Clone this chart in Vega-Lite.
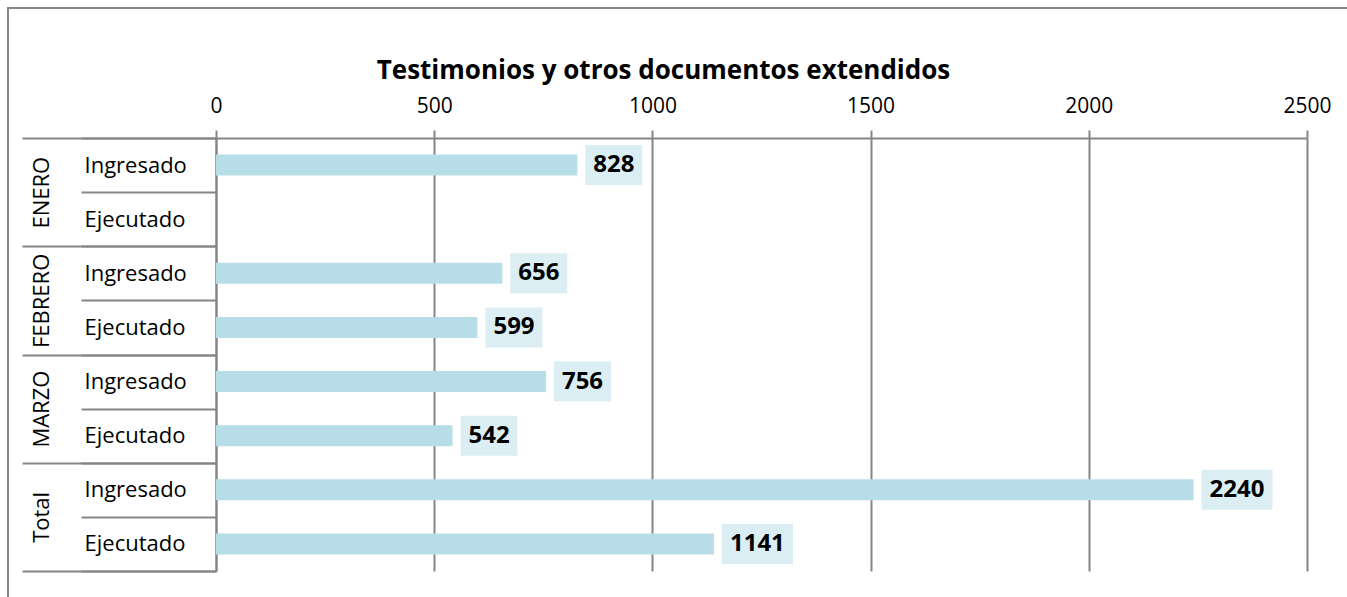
{
  "$schema": "https://vega.github.io/schema/vega-lite/v6.json",
  "width": 1400,
  "height": 650,
  "autosize": {"type": "none"},
  "padding": {"left": 8, "top": 8, "right": -61, "bottom": -61},
  "background": "white",
  "config": {
    "view": {"stroke": "#868686", "strokeWidth": 2},
    "font": "Open Sans"
  },
  "data": {
    "values": [
      {"month": "ENERO", "type": "Ingresado", "key": "ENERO|Ingresado", "value": 828},
      {"month": "FEBRERO", "type": "Ingresado", "key": "FEBRERO|Ingresado", "value": 656},
      {"month": "FEBRERO", "type": "Ejecutado", "key": "FEBRERO|Ejecutado", "value": 599},
      {"month": "MARZO", "type": "Ingresado", "key": "MARZO|Ingresado", "value": 756},
      {"month": "MARZO", "type": "Ejecutado", "key": "MARZO|Ejecutado", "value": 542},
      {"month": "Total", "type": "Ingresado", "key": "Total|Ingresado", "value": 2240},
      {"month": "Total", "type": "Ejecutado", "key": "Total|Ejecutado", "value": 1141}
    ]
  },
  "layer": [
    {
      "encoding": {
        "y": {
          "field": "key", "type": "nominal",
          "scale": {
            "domain": ["ENERO|Ingresado", "ENERO|Ejecutado", "FEBRERO|Ingresado", "FEBRERO|Ejecutado", "MARZO|Ingresado", "MARZO|Ejecutado", "Total|Ingresado", "Total|Ejecutado"],
            "range": [130, 563], "paddingInner": 0, "paddingOuter": 0
          },
          "axis": {
            "orient": "left", "offset": -208, "title": null,
            "labelExpr": "split(datum.value, '|')[1]",
            "tickBand": "extent", "tickSize": 135, "tickColor": "#868686", "tickWidth": 2,
            "domainColor": "#868686", "domainWidth": 2,
            "labelAlign": "left", "labelBaseline": "middle", "labelPadding": -3,
            "labelFontSize": 22, "labelColor": "black", "labelFont": "Open Sans",
            "grid": false
          }
        },
        "x": {
          "field": "value", "type": "quantitative",
          "scale": {"domain": [0, 2500], "range": [208, 1299], "nice": false, "zero": true},
          "axis": {
            "orient": "top", "offset": -130, "format": "d",
            "title": "Testimonios y otros documentos extendidos",
            "titleFontSize": 26, "titleFontWeight": "bold", "titleColor": "black", "titleFont": "Open Sans",
            "titleX": 655, "titleY": -60, "titleAlign": "center", "titleBaseline": "alphabetic", "titleAngle": 0,
            "values": [0, 500, 1000, 1500, 2000, 2500],
            "tickSize": 8, "tickColor": "#868686", "tickWidth": 2,
            "domainColor": "#868686", "domainWidth": 2,
            "grid": true, "gridColor": "#868686", "gridWidth": 2, "gridOpacity": 1,
            "labelFontSize": 21, "labelColor": "black", "labelFont": "Open Sans",
            "labelPadding": 18, "labelBaseline": "alphabetic", "labelFlush": false, "labelOverlap": false
          }
        }
      },
      "layer": [
        {
          "mark": {"type": "bar", "size": 21, "color": "#B7DDE8"}
        },
        {
          "transform": [{"filter": "datum.value < 1000"}],
          "mark": {"type": "bar", "size": 40, "color": "#DBEEF3", "xOffset": 8, "x2Offset": 65},
          "encoding": {"x2": {"field": "value"}}
        },
        {
          "transform": [{"filter": "datum.value >= 1000"}],
          "mark": {"type": "bar", "size": 40, "color": "#DBEEF3", "xOffset": 8, "x2Offset": 79},
          "encoding": {"x2": {"field": "value"}}
        },
        {
          "mark": {"type": "text", "align": "left", "baseline": "middle", "dx": 16, "fontSize": 24, "fontWeight": "bold", "font": "Open Sans", "color": "black"},
          "encoding": {
            "text": {"field": "value", "type": "quantitative", "format": "d"}
          }
        }
      ]
    },
    {
      "mark": {"type": "point", "opacity": 0},
      "encoding": {
        "y": {
          "field": "month", "type": "nominal",
          "scale": {"domain": ["ENERO", "FEBRERO", "MARZO", "Total"], "range": [130, 563], "paddingInner": 0, "paddingOuter": 0},
          "axis": {
            "orient": "left", "offset": -208, "title": null,
            "tickBand": "extent", "tickSize": 194, "tickColor": "#868686", "tickWidth": 2,
            "domain": false, "grid": false,
            "labelAngle": 270, "labelAlign": "center", "labelBaseline": "middle", "labelPadding": -19,
            "labelFontSize": 22, "labelColor": "black", "labelFont": "Open Sans"
          }
        }
      }
    }
  ],
  "resolve": {"scale": {"y": "independent"}, "axis": {"y": "independent"}}
}
